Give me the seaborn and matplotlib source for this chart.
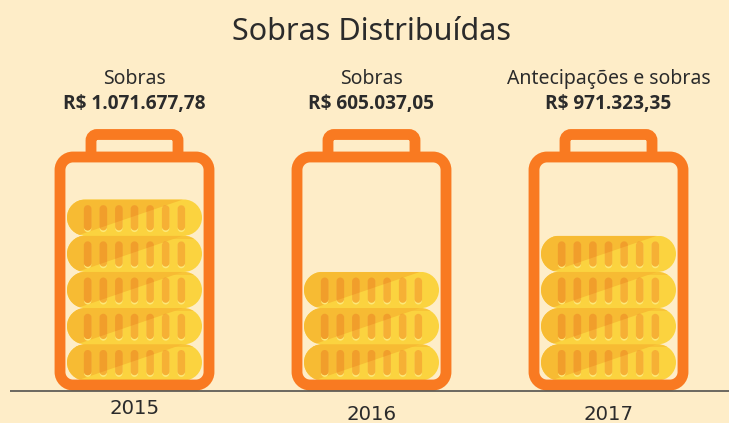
import matplotlib
matplotlib.use('Agg')
import matplotlib.pyplot as plt
import seaborn as sns
import pandas as pd
from matplotlib.patches import PathPatch, Polygon, Rectangle
from matplotlib.path import Path
from matplotlib.transforms import IdentityTransform

# values
years = ['2015', '2016', '2017']
captions = ['Sobras', 'Sobras', 'Antecipações e sobras']
amounts = ['R$ 1.071.677,78', 'R$ 605.037,05', 'R$ 971.323,35']
coin_counts = [5, 3, 4]

BG = '#FEEDC8'
ORANGE = '#F97A21'
COIN_LIGHT = '#FBD33F'
COIN_DARK = '#F7BB33'
RIDGE_LIGHT = '#F6B035'
RIDGE_DARK = '#F19E2B'
RIDGE_SHINE = '#FDE878'
INK = '#2B2B2B'
W, H = 729, 423
STEP_X, STEP_Y = 237.0, 36.2   # pixels per battery, pixels per coin
X0, Y0 = 134.5, 380.5          # where battery 0 and coin 0 sit in the image

sns.set_theme(style='white', rc={'axes.facecolor': BG, 'figure.facecolor': BG})
plt.rcParams['font.family'] = ['Noto Sans', 'DejaVu Sans']

fig = plt.figure(figsize=(W / 100, H / 100), dpi=100)
ax = fig.add_axes([0, 0, 1, 1])

df = pd.DataFrame({'pos': range(len(years)), 'coins': coin_counts})
sns.barplot(data=df, x='pos', y='coins', native_scale=True, width=135 / STEP_X,
            color=COIN_LIGHT, saturation=1, linewidth=0, ax=ax, zorder=2)
ax.set_xlim(-X0 / STEP_X, (W - X0) / STEP_X)
ax.set_ylim((Y0 - H) / STEP_Y, Y0 / STEP_Y)
ax.set_axis_off()

ident = IdentityTransform()
K = 0.5523


def rounded_path(x0, y0, w, h, r):
    # rounded rectangle in display pixels, corners are true quarter circles
    x1, y1 = x0 + w, y0 + h
    c = r * (1 - K)
    verts = [(x0 + r, y0), (x1 - r, y0), (x1 - c, y0), (x1, y0 + c), (x1, y0 + r),
             (x1, y1 - r), (x1, y1 - c), (x1 - c, y1), (x1 - r, y1),
             (x0 + r, y1), (x0 + c, y1), (x0, y1 - c), (x0, y1 - r),
             (x0, y0 + r), (x0, y0 + c), (x0 + c, y0), (x0 + r, y0), (x0 + r, y0)]
    codes = [Path.MOVETO, Path.LINETO, Path.CURVE4, Path.CURVE4, Path.CURVE4,
             Path.LINETO, Path.CURVE4, Path.CURVE4, Path.CURVE4,
             Path.LINETO, Path.CURVE4, Path.CURVE4, Path.CURVE4,
             Path.LINETO, Path.CURVE4, Path.CURVE4, Path.CURVE4, Path.CLOSEPOLY]
    return Path(verts, codes)


def add_shape(path, **kw):
    patch = PathPatch(path, transform=ident, snap=False, **kw)
    ax.add_patch(patch)
    return patch


def add_battery(cx, base):
    # cx, base are display pixels: centre of battery, top of baseline
    add_shape(rounded_path(cx - 74.5, base + 5, 149, 228, 13),
              facecolor='none', edgecolor=ORANGE, linewidth=7.8, zorder=4)
    top = base + 255.5
    r = 6
    c = r * (1 - K)
    xl, xr = cx - 43.5, cx + 43.5
    verts = [(xl, base + 233), (xl, top - r), (xl, top - c), (xl + c, top), (xl + r, top),
             (xr - r, top), (xr - c, top), (xr, top - c), (xr, top - r), (xr, base + 233)]
    codes = [Path.MOVETO, Path.LINETO, Path.CURVE4, Path.CURVE4, Path.CURVE4,
             Path.LINETO, Path.CURVE4, Path.CURVE4, Path.CURVE4, Path.LINETO]
    add_shape(Path(verts, codes), facecolor='none', edgecolor=ORANGE, linewidth=7.8, zorder=4)


for i, bar in enumerate(ax.patches[:len(years)]):
    x_left, y_bot = ax.transData.transform((bar.get_x(), 0))
    x_right = ax.transData.transform((bar.get_x() + bar.get_width(), 0))[0]
    width = x_right - x_left
    coin_paths = []
    for c in range(coin_counts[i]):
        y0 = ax.transData.transform((0, c))[1]
        coin = rounded_path(x_left, y0, width, STEP_Y, STEP_Y / 2)
        coin_paths.append(coin)
        corners = [(x_left - 2, y0), (x_left + 10, y0),
                   (x_left + 116, y0 + STEP_Y), (x_left - 2, y0 + STEP_Y)]
        shade = Polygon(corners, closed=True, facecolor=COIN_DARK, edgecolor='none',
                        transform=ident, zorder=2.2)
        ax.add_patch(shade)
        shade.set_clip_path(coin, ident)
        # the coin above leaves a faint shadow on the top edge
        if c < coin_counts[i] - 1:
            strip = Rectangle((x_left, y0 + STEP_Y - 3), width, 3, facecolor=COIN_DARK,
                              edgecolor='none', alpha=0.6, transform=ident, zorder=2.3)
            ax.add_patch(strip)
            strip.set_clip_path(coin, ident)
        for k in range(-3, 4):
            rx = (x_left + x_right) / 2 + k * 15.6
            add_shape(rounded_path(rx - 3.6, y0 + 3.6, 7.2, 26.5, 3.6),
                      facecolor=RIDGE_SHINE, edgecolor='none', zorder=2.4)
            ridge = rounded_path(rx - 3.8, y0 + 5.3, 7.6, 25.2, 3.8)
            add_shape(ridge, facecolor=RIDGE_LIGHT, edgecolor='none', zorder=2.5)
            dark = add_shape(ridge, facecolor=RIDGE_DARK, edgecolor='none', zorder=2.6)
            dark.set_clip_path(Path(corners + corners[:1], closed=True), ident)
    bar.set_clip_path(Path.make_compound_path(*coin_paths), ident)
    add_battery((x_left + x_right) / 2, y_bot - 9.5)


def y_data(py):
    return (Y0 - py) / STEP_Y


def x_data(px):
    return (px - X0) / STEP_X


ax.plot([x_data(10), x_data(W)], [y_data(390.5)] * 2, color='#444444', lw=1.1, zorder=5,
        solid_capstyle='butt')
ax.text(x_data(371), y_data(32), 'Sobras Distribuídas', fontsize=22, color=INK,
        ha='center', va='center')
year_py = [408, 414, 414]
for i in range(len(years)):
    ax.text(i, y_data(78.5), captions[i], fontsize=14, color=INK, ha='center', va='center')
    ax.text(i, y_data(104), amounts[i], fontsize=13.7, fontweight='bold', color=INK,
            ha='center', va='center', family='Open Sans')
    ax.text(i, y_data(year_py[i]), years[i], fontsize=14.2, color=INK, ha='center', va='center',
            family='DejaVu Sans')

plt.savefig('out.png', dpi=100)
